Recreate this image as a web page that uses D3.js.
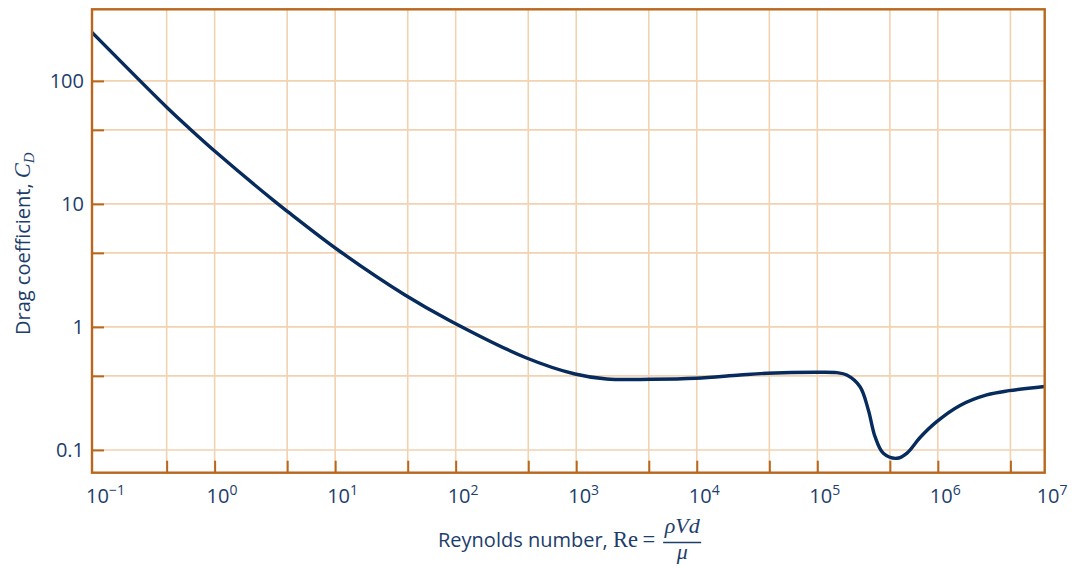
<!DOCTYPE html>
<html><head><meta charset="utf-8">
<script src="https://cdn.jsdelivr.net/npm/d3@7"></script>
<style>html,body{margin:0;padding:0;background:#fff;} svg{display:block;}</style>
</head><body>
<svg id="chart" width="1079" height="568"></svg>
<script>
// ---- data ----
const reynolds = [0.0961, 0.4104, 0.6247, 1.052, 3.17, 4.14, 10.56, 37.97, 89.7, 383, 977, 1790, 4174, 9858, 22850, 38490, 98900, 145000, 175500, 226200, 265100, 301300, 353000, 456000, 552000, 712000, 979000, 1528000, 2544000, 3896000, 7700000];
const dragCoeff = [248, 59.7, 40.7, 25.8, 10.43, 8.49, 4.22, 1.818, 1.124, 0.562, 0.4144, 0.3773, 0.3752, 0.3824, 0.4066, 0.42, 0.4278, 0.4246, 0.4066, 0.3266, 0.2113, 0.1281, 0.0939, 0.0855, 0.0939, 0.1262, 0.1697, 0.2298, 0.2797, 0.3031, 0.328];
const xGridValues = [0.4, 1, 4, 10, 40, 100, 400, 1e3, 4e3, 1e4, 4e4, 1e5, 4e5, 1e6, 4e6];
const yGridValues = [0.1, 0.4, 1, 4, 10, 40, 100];
const xTickExponents = [-1, 0, 1, 2, 3, 4, 5, 6, 7];
const yTickValues = [0.1, 1, 10, 100];
const yTickLabels = ["0.1", "1", "10", "100"];
const xDomain = [0.0961, 7.7e6];
const yDomain = [0.0653, 382];

// ---- layout ----
const L = 92, R = 1044.7, T = 9.3, B = 472.7;
const gridColor = "#f1d2b1", axisColor = "#b9671d", textColor = "#1d3d6b", lineColor = "#062b5c";
const sans = "'Open Sans', 'Noto Sans', sans-serif";
const serif = "'Liberation Serif', 'DejaVu Serif', serif";

const svg = d3.select("#chart");
const x = d3.scaleLog().domain(xDomain).range([L, R]).clamp(true);
const y = d3.scaleLog().domain(yDomain).range([B, T]);

// grid
svg.append("g").selectAll("line").data(xGridValues).join("line")
  .attr("x1", d => x(d)).attr("x2", d => x(d)).attr("y1", T).attr("y2", B)
  .attr("stroke", gridColor).attr("stroke-width", 1.6);
svg.append("g").selectAll("line").data(yGridValues).join("line")
  .attr("x1", L).attr("x2", R).attr("y1", d => y(d)).attr("y2", d => y(d))
  .attr("stroke", gridColor).attr("stroke-width", 1.6);

// inward tick marks via d3 axes
const yAxis = svg.append("g").attr("transform", `translate(${L},0)`)
  .call(d3.axisLeft(y).tickValues(yGridValues).tickSizeInner(-12).tickSizeOuter(0).tickFormat(""));
const xAxis = svg.append("g").attr("transform", `translate(0,${B})`)
  .call(d3.axisBottom(x).tickValues(xGridValues).tickSizeInner(-12).tickSizeOuter(0).tickFormat(""));
[yAxis, xAxis].forEach(a => {
  a.select(".domain").remove();
  a.selectAll(".tick line").attr("stroke", axisColor).attr("stroke-width", 2);
});

// curve
svg.append("defs").append("clipPath").attr("id", "plotclip")
  .append("rect").attr("x", L).attr("y", T).attr("width", R - L).attr("height", B - T);
const pts = reynolds.map((r, i) => [r, dragCoeff[i]]);
svg.append("path").datum(pts)
  .attr("clip-path", "url(#plotclip)")
  .attr("fill", "none").attr("stroke", lineColor).attr("stroke-width", 3.4)
  .attr("stroke-linejoin", "round")
  .attr("d", d3.line().x(d => x(d[0])).y(d => y(d[1])).curve(d3.curveCatmullRom.alpha(0.5)));

// border
svg.append("rect").attr("x", L).attr("y", T).attr("width", R - L).attr("height", B - T)
  .attr("fill", "none").attr("stroke", axisColor).attr("stroke-width", 2.4);

// y tick labels
svg.append("g").selectAll("text").data(yTickValues).join("text")
  .attr("x", 84).attr("y", d => y(d) + 7.4)
  .attr("text-anchor", "end").attr("font-family", sans).attr("font-size", 20)
  .attr("fill", textColor).text((d, i) => yTickLabels[i]);

// x tick labels
const xl = svg.append("g").selectAll("text").data(xTickExponents).join("text")
  .attr("x", e => x(Math.pow(10, e)) - 8).attr("y", 503)
  .attr("font-family", sans).attr("font-size", 20).attr("fill", textColor);
xl.append("tspan").text("10");
xl.append("tspan").attr("dy", -8.5).attr("font-size", 14)
  .text(e => e < 0 ? "\u2212" + Math.abs(e) : String(e));

// x axis title
const xt = svg.append("text").attr("x", 438).attr("y", 547)
  .attr("fill", textColor).attr("font-size", 20);
xt.append("tspan").attr("font-family", sans).text("Reynolds number, ");
xt.append("tspan").attr("font-family", serif).attr("font-size", 22.5).text("Re\u2009=");
const xtEnd = 438 + xt.node().getComputedTextLength();
const fracL = xtEnd + 8, fracW = 38, fracC = fracL + fracW / 2;
svg.append("text").attr("x", fracC).attr("y", 533).attr("text-anchor", "middle")
  .attr("font-family", serif).attr("font-style", "italic").attr("font-size", 22)
  .attr("fill", textColor).text("\u03C1Vd");
svg.append("line").attr("x1", fracL).attr("x2", fracL + fracW).attr("y1", 542.5).attr("y2", 542.5)
  .attr("stroke", textColor).attr("stroke-width", 1.3);
svg.append("text").attr("x", fracC).attr("y", 559).attr("text-anchor", "middle")
  .attr("font-family", serif).attr("font-style", "italic").attr("font-size", 22)
  .attr("fill", textColor).text("\u03BC");

// y axis title
const yt = svg.append("text").attr("transform", "translate(30,335) rotate(-90)")
  .attr("fill", textColor).attr("font-size", 20);
yt.append("tspan").attr("font-family", sans).text("Drag coefficient, ");
yt.append("tspan").attr("font-family", serif).attr("font-style", "italic").attr("font-size", 22.5).text("C");
yt.append("tspan").attr("font-family", serif).attr("font-style", "italic").attr("font-size", 15).attr("dy", 4).text("D");
</script>
</body></html>
